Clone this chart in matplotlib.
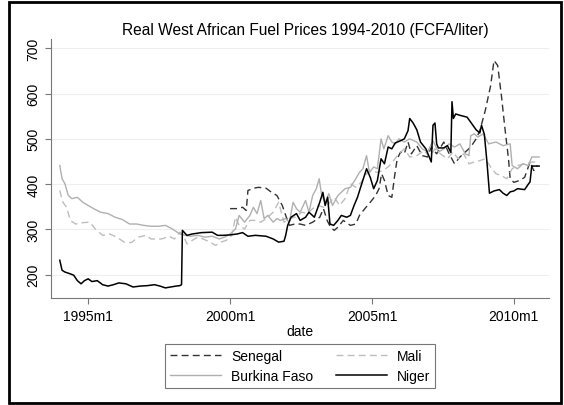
import matplotlib.pyplot as plt
from matplotlib.patches import Rectangle

# Monthly real fuel prices (FCFA/liter); x = decimal year
niger_t = [1994.0, 1994.08, 1994.18, 1994.37, 1994.49, 1994.62, 1994.75, 1994.87, 1995.0, 1995.13,
           1995.32, 1995.51, 1995.7, 1995.89, 1996.08, 1996.33, 1996.58, 1996.84, 1997.09, 1997.34,
           1997.53, 1997.72, 1997.91, 1998.1, 1998.23, 1998.29, 1998.32, 1998.48, 1998.67, 1998.99,
           1999.37, 1999.56, 1999.75, 2000.0, 2000.25, 2000.44, 2000.63, 2000.89, 2001.27, 2001.52,
           2001.71, 2001.9, 2001.96, 2002.03, 2002.15, 2002.34, 2002.47, 2002.66, 2002.78, 2002.97,
           2003.16, 2003.27, 2003.35, 2003.44, 2003.52, 2003.65, 2003.8, 2003.92, 2004.11, 2004.24,
           2004.37, 2004.49, 2004.62, 2004.81, 2004.94, 2005.06, 2005.19, 2005.32, 2005.44, 2005.57,
           2005.7, 2005.82, 2006.01, 2006.14, 2006.27, 2006.33, 2006.45, 2006.58, 2006.71, 2006.9,
           2007.09, 2007.15, 2007.22, 2007.28, 2007.34, 2007.53, 2007.66, 2007.78, 2007.82, 2007.87,
           2007.95, 2008.1, 2008.35, 2008.5, 2008.67, 2008.8, 2008.86, 2008.96, 2009.05, 2009.14,
           2009.3, 2009.49, 2009.62, 2009.75, 2009.87, 2010.0, 2010.13, 2010.38, 2010.51, 2010.57,
           2010.63, 2010.66, 2010.76, 2010.89]
niger_v = [232, 210, 206, 202, 199, 187, 180, 187, 191, 185,
           187, 178, 175, 178, 182, 180, 173, 175, 176, 178,
           175, 171, 173, 175, 176, 178, 298, 287, 290, 293,
           294, 287, 287, 288, 290, 293, 285, 287, 285, 279,
           272, 274, 287, 309, 327, 335, 320, 327, 338, 327,
           360, 382, 353, 371, 312, 309, 320, 331, 327, 331,
           353, 371, 397, 434, 415, 390, 408, 456, 445, 482,
           478, 491, 496, 500, 518, 545, 535, 520, 493, 478,
           449, 530, 535, 489, 480, 480, 485, 470, 582, 545,
           555, 552, 548, 535, 520, 513, 530, 510, 450, 380,
           385, 388, 380, 375, 383, 385, 390, 388, 400, 405,
           440, 440, 440, 440]

senegal_t = [2000.0, 2000.25, 2000.44, 2000.57, 2000.63, 2000.82, 2001.01, 2001.27, 2001.46, 2001.65,
             2001.84, 2001.96, 2002.09, 2002.28, 2002.47, 2002.66, 2002.91, 2003.16, 2003.29, 2003.42,
             2003.54, 2003.67, 2003.8, 2003.99, 2004.24, 2004.43, 2004.56, 2004.75, 2004.94, 2005.13,
             2005.25, 2005.34, 2005.44, 2005.57, 2005.7, 2005.8, 2005.89, 2006.01, 2006.14, 2006.27,
             2006.39, 2006.58, 2006.77, 2006.96, 2007.09, 2007.28, 2007.53, 2007.72, 2007.91, 2008.1,
             2008.29, 2008.48, 2008.67, 2008.8, 2008.99, 2009.18, 2009.3, 2009.43, 2009.56, 2009.68,
             2009.81, 2009.87, 2010.0, 2010.19, 2010.38, 2010.57, 2010.7, 2010.82]
senegal_v = [346, 346, 349, 342, 386, 391, 393, 391, 382, 375,
             353, 331, 309, 312, 312, 309, 316, 327, 346, 320,
             305, 298, 305, 320, 309, 312, 331, 346, 360, 375,
             390, 423, 408, 375, 371, 419, 456, 471, 467, 493,
             467, 485, 463, 460, 482, 467, 493, 467, 445, 460,
             471, 482, 500, 518, 562, 617, 673, 662, 596, 526,
             456, 412, 404, 408, 415, 449, 430, 441]

burkina_t = [1994.0, 1994.08, 1994.18, 1994.3, 1994.43, 1994.62, 1994.81, 1995.0, 1995.19, 1995.44,
             1995.7, 1995.95, 1996.2, 1996.46, 1996.71, 1996.96, 1997.22, 1997.47, 1997.72, 1997.97,
             1998.23, 1998.42, 1998.61, 1998.86, 1999.11, 1999.37, 1999.62, 1999.81, 2000.0, 2000.19,
             2000.32, 2000.51, 2000.7, 2000.82, 2000.95, 2001.08, 2001.2, 2001.33, 2001.52, 2001.65,
             2001.77, 2001.96, 2002.09, 2002.22, 2002.34, 2002.47, 2002.66, 2002.78, 2002.91, 2003.04,
             2003.14, 2003.23, 2003.35, 2003.48, 2003.61, 2003.8, 2003.92, 2004.05, 2004.24, 2004.43,
             2004.56, 2004.68, 2004.81, 2004.91, 2005.06, 2005.19, 2005.32, 2005.42, 2005.57, 2005.7,
             2005.82, 2005.95, 2006.14, 2006.33, 2006.58, 2006.77, 2006.96, 2007.15, 2007.34, 2007.53,
             2007.72, 2007.91, 2008.1, 2008.29, 2008.42, 2008.48, 2008.61, 2008.73, 2008.92, 2009.11,
             2009.37, 2009.62, 2009.87, 2009.94, 2010.13, 2010.32, 2010.51, 2010.63, 2010.89]
burkina_v = [441, 412, 401, 375, 368, 371, 360, 353, 346, 338,
             335, 327, 322, 312, 312, 309, 307, 307, 309, 301,
             290, 287, 285, 287, 283, 285, 279, 283, 290, 301,
             331, 316, 331, 349, 335, 364, 324, 331, 316, 324,
             320, 324, 316, 360, 346, 338, 364, 338, 375, 390,
             412, 375, 360, 379, 353, 375, 382, 390, 393, 412,
             426, 434, 463, 426, 438, 434, 500, 478, 507, 493,
             489, 500, 493, 500, 493, 478, 471, 496, 471, 478,
             489, 482, 489, 467, 463, 507, 511, 504, 511, 489,
             493, 485, 489, 441, 434, 445, 441, 460, 460]

mali_t = [1994.0, 1994.11, 1994.24, 1994.37, 1994.56, 1994.81, 1995.06, 1995.25, 1995.51, 1995.76,
          1996.01, 1996.27, 1996.52, 1996.77, 1997.03, 1997.22, 1997.41, 1997.59, 1997.85, 1998.04,
          1998.23, 1998.35, 1998.48, 1998.67, 1998.86, 1999.05, 1999.3, 1999.49, 1999.68, 1999.87,
          2000.06, 2000.19, 2000.32, 2000.51, 2000.7, 2000.89, 2001.08, 2001.27, 2001.52, 2001.71,
          2001.9, 2002.09, 2002.28, 2002.53, 2002.72, 2002.91, 2003.1, 2003.29, 2003.48, 2003.67,
          2003.86, 2004.05, 2004.24, 2004.43, 2004.62, 2004.81, 2005.0, 2005.19, 2005.38, 2005.57,
          2005.76, 2005.95, 2006.14, 2006.33, 2006.58, 2006.84, 2007.03, 2007.22, 2007.41, 2007.66,
          2007.85, 2008.04, 2008.23, 2008.42, 2008.61, 2008.8, 2008.99, 2009.18, 2009.37, 2009.56,
          2009.75, 2009.94, 2010.13, 2010.38, 2010.63, 2010.82]
mali_v = [386, 360, 349, 320, 312, 315, 316, 301, 287, 290,
          283, 272, 271, 283, 287, 279, 279, 279, 285, 279,
          294, 287, 268, 276, 283, 279, 272, 265, 272, 276,
          287, 327, 309, 301, 320, 320, 316, 324, 338, 360,
          316, 324, 327, 338, 335, 346, 353, 349, 357, 371,
          353, 368, 401, 393, 404, 423, 430, 426, 430, 438,
          452, 467, 478, 460, 463, 474, 460, 478, 467, 456,
          471, 456, 467, 445, 449, 452, 456, 438, 423, 419,
          412, 434, 441, 445, 449, 449]

years = [1995, 2000, 2005, 2010]
tick_labels = ["1995m1", "2000m1", "2005m1", "2010m1"]
yticks = [200, 300, 400, 500, 600, 700]

plt.rcParams['font.family'] = ['Liberation Sans', 'DejaVu Sans']

fig = plt.figure(figsize=(5.64, 4.06), dpi=100)
ax = fig.add_axes([0.0904, 0.2628, 0.8826, 0.6387])

ax.plot(senegal_t, senegal_v, color='#333333', lw=1.0, dashes=(5, 3), label='Senegal')
ax.plot(mali_t, mali_v, color='#bdbdbd', lw=1.0, dashes=(5, 3), label='Mali')
ax.plot(burkina_t, burkina_v, color='#b0b0b0', lw=1.0, label='Burkina Faso')
ax.plot(niger_t, niger_v, color='black', lw=1.1, label='Niger')

ax.set_xlim(1993.69, 2011.23)
ax.set_ylim(148, 720.5)
ax.set_xticks(years)
ax.set_xticklabels(tick_labels, fontsize=10)
ax.set_yticks(yticks)
ax.set_yticklabels([str(v) for v in yticks], fontsize=10, rotation=90, va='center')
ax.yaxis.grid(True, color='#eeeeee', lw=0.8)
ax.set_axisbelow(True)
for s in ['top', 'right']:
    ax.spines[s].set_visible(False)
for s in ['left', 'bottom']:
    ax.spines[s].set_color('#777777')
    ax.spines[s].set_linewidth(0.8)
ax.tick_params(colors='#777777', labelcolor='black', length=4, width=0.8)
ax.set_xlabel('date', fontsize=10, labelpad=1)
fig.text(0.541, 1 - 31 / 406, 'Real West African Fuel Prices 1994-2010 (FCFA/liter)',
         fontsize=11.2, ha='center', va='center')

handles, labels = ax.get_legend_handles_labels()
order = [0, 2, 1, 3]
leg = fig.legend([handles[i] for i in order], [labels[i] for i in order],
                 ncol=2, loc='center', bbox_to_anchor=(0.532, 1 - 367 / 406),
                 fontsize=10, frameon=True, fancybox=False, handlelength=3.7,
                 handletextpad=0.7, columnspacing=1.6, labelspacing=0.42,
                 borderpad=0.35)
leg.get_frame().set_edgecolor('#555555')
leg.get_frame().set_linewidth(0.8)

fig.patches.append(Rectangle((9 / 564, 2 / 406), 552 / 564, 401 / 406, transform=fig.transFigure,
                             fill=False, edgecolor='black', lw=2))

fig.savefig('out.png', dpi=100)
